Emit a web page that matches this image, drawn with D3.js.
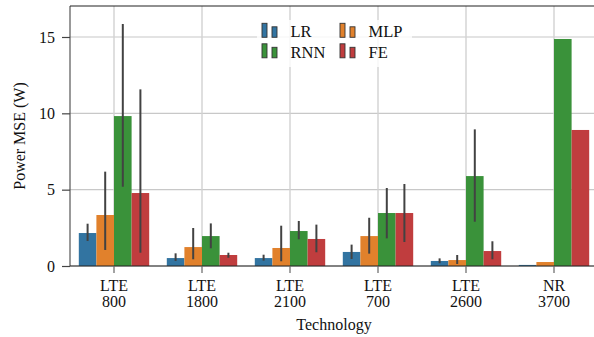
<!DOCTYPE html>
<html>
<head>
<meta charset="utf-8">
<script src="https://cdn.jsdelivr.net/npm/d3@7"></script>
</head>
<body style="margin:0;padding:0;background:#fff">
<svg id="chart" width="594" height="337" style="display:block"></svg>
<script>
// Technologies on the x axis (two-line labels)
const categories = ["LTE\n800", "LTE\n1800", "LTE\n2100", "LTE\n700", "LTE\n2600", "NR\n3700"];
const models = ["LR", "MLP", "RNN", "FE"];
const colors = ["#3274a1", "#e1812c", "#3a923a", "#c03d3e"];

// Mean power MSE per model, one entry per technology
const lrMean  = [2.16, 0.52, 0.52, 0.92, 0.33, 0.07];
const mlpMean = [3.34, 1.24, 1.18, 1.96, 0.39, 0.26];
const rnnMean = [9.82, 1.96, 2.29, 3.47, 5.89, 14.87];
const feMean  = [4.78, 0.72, 1.77, 3.47, 0.98, 8.91];

// Confidence interval bounds [low, high]; null where no interval is shown
const lrCI  = [[1.64, 2.77], [0.33, 0.83], [0.35, 0.74], [0.46, 1.40], [0.18, 0.50], null];
const mlpCI = [[1.05, 6.18], [0.44, 2.49], [0.31, 2.64], [0.81, 3.16], [0.13, 0.72], null];
const rnnCI = [[5.19, 15.85], [1.16, 2.79], [1.75, 2.95], [1.81, 5.11], [2.90, 8.95], null];
const feCI  = [[0.87, 11.57], [0.54, 0.87], [0.90, 2.71], [1.57, 5.37], [0.44, 1.62], null];

const yTicks = [0, 5, 10, 15];

const means = [lrMean, mlpMean, rnnMean, feMean];
const cis = [lrCI, mlpCI, rnnCI, feCI];

// Serif text helper
function serif(sel, size) {
  return sel.attr("font-family", "Liberation Serif")
    .attr("font-size", size)
    .attr("fill", "#111")
    .attr("style", `font-family:'Liberation Serif';font-size:${size}px`);
}

const svg = d3.select("#chart");
const mLeft = 70, mRight = 598, mTop = 6, mBottom = 266;

const x = d3.scaleBand().domain(categories).range([mLeft, mRight]).paddingInner(0).paddingOuter(0);
const groupW = x.bandwidth() * 0.8;
const xs = d3.scaleBand().domain(models).range([0, groupW]).padding(0);
const y = d3.scaleLinear().domain([0, 17.03]).range([mBottom, mTop]);

svg.append("clipPath").attr("id", "plotclip")
  .append("rect").attr("x", mLeft).attr("y", mTop - 2).attr("width", 594 - mLeft).attr("height", mBottom - mTop + 4);

const plot = svg.append("g").attr("clip-path", "url(#plotclip)");

// Gridlines
plot.selectAll("line.hgrid").data(yTicks).join("line")
  .attr("x1", mLeft).attr("x2", mRight)
  .attr("y1", d => y(d)).attr("y2", d => y(d))
  .attr("stroke", "#c8c8c8").attr("stroke-width", 1.2);
plot.selectAll("line.vgrid").data(categories).join("line")
  .attr("x1", d => x(d) + x.bandwidth() / 2).attr("x2", d => x(d) + x.bandwidth() / 2)
  .attr("y1", mTop).attr("y2", mBottom)
  .attr("stroke", "#d2d2d2").attr("stroke-width", 1.4);

// Bars
models.forEach((m, mi) => {
  plot.append("g").selectAll("rect").data(categories).join("rect")
    .attr("x", d => x(d) + (x.bandwidth() - groupW) / 2 + xs(m))
    .attr("width", xs.bandwidth())
    .attr("y", (d, i) => y(means[mi][i]))
    .attr("height", (d, i) => y(0) - y(means[mi][i]))
    .attr("fill", colors[mi]);
});

// Error bars
models.forEach((m, mi) => {
  const rows = categories.map((c, i) => ({ c, ci: cis[mi][i] })).filter(r => r.ci);
  plot.append("g").selectAll("line").data(rows).join("line")
    .attr("x1", r => x(r.c) + (x.bandwidth() - groupW) / 2 + xs(m) + xs.bandwidth() / 2)
    .attr("x2", r => x(r.c) + (x.bandwidth() - groupW) / 2 + xs(m) + xs.bandwidth() / 2)
    .attr("y1", r => y(r.ci[0])).attr("y2", r => y(r.ci[1]))
    .attr("stroke", "#424242").attr("stroke-width", 2);
});

// Spines
svg.append("line").attr("x1", mLeft).attr("x2", mLeft).attr("y1", mTop).attr("y2", mBottom)
  .attr("stroke", "#555").attr("stroke-width", 1.2);
svg.append("line").attr("x1", mLeft).attr("x2", 594).attr("y1", mTop).attr("y2", mTop)
  .attr("stroke", "#222").attr("stroke-width", 1.2);
svg.append("line").attr("x1", mLeft).attr("x2", 594).attr("y1", mBottom).attr("y2", mBottom)
  .attr("stroke", "#222").attr("stroke-width", 1.2);

// Y axis
const yAxis = svg.append("g").attr("transform", `translate(${mLeft},0)`)
  .call(d3.axisLeft(y).tickValues(yTicks).tickSize(8).tickPadding(7));
yAxis.attr("font-family", "Liberation Serif");
yAxis.select(".domain").remove();
yAxis.selectAll(".tick line").attr("stroke", "#444").attr("stroke-width", 1.2);
serif(yAxis.selectAll(".tick text"), 16);

// X axis with two-line labels
const xAxis = svg.append("g").attr("transform", `translate(0,${mBottom})`)
  .call(d3.axisBottom(x).tickSize(7).tickFormat(""));
xAxis.attr("font-family", "Liberation Serif");
xAxis.select(".domain").remove();
xAxis.selectAll(".tick line").attr("stroke", "#666").attr("stroke-width", 1.2);
xAxis.selectAll(".tick").each(function(d) {
  const t = serif(d3.select(this).append("text").attr("text-anchor", "middle"), 16);
  d.split("\n").forEach((line, k) => {
    t.append("tspan").attr("x", 0).attr("y", 25 + k * 15.5).text(line);
  });
});

// Axis titles
serif(svg.append("text").attr("x", (mLeft + mRight) / 2).attr("y", 330)
  .attr("text-anchor", "middle"), 16).text("Technology");
serif(svg.append("text").attr("transform", `translate(25,${(mTop + mBottom) / 2}) rotate(-90)`)
  .attr("text-anchor", "middle"), 16).text("Power MSE (W)");

// Legend
const legend = svg.append("g");
legend.append("rect").attr("x", 257).attr("y", 20).attr("width", 155).attr("height", 47)
  .attr("fill", "#fff").attr("fill-opacity", 0.8);
models.forEach((m, mi) => {
  const col = mi % 2, row = Math.floor(mi / 2);
  const lx = 262 + col * 78, ly = 37.3 + row * 20.5;
  const g = legend.append("g").attr("transform", `translate(${lx},${ly})`);
  g.append("rect").attr("x", 0).attr("y", -14).attr("width", 5).attr("height", 14)
    .attr("fill", colors[mi]).attr("stroke", "#333").attr("stroke-width", 0.9);
  g.append("rect").attr("x", 10).attr("y", -10.5).attr("width", 5).attr("height", 10.5)
    .attr("fill", colors[mi]).attr("stroke", "#333").attr("stroke-width", 0.9);
  serif(g.append("text").attr("x", 28.5).attr("y", 0), 16.5).text(m);
});
</script>
</body>
</html>
